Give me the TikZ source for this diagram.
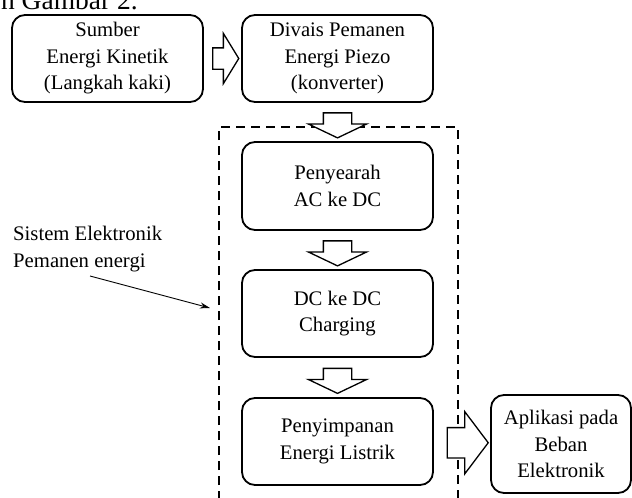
\documentclass[tikz,border=0pt]{standalone}
\usepackage{fontspec}
\setmainfont{Liberation Serif}
\usetikzlibrary{shapes.arrows,calc,arrows.meta}
\begin{document}
\begin{tikzpicture}[x=1pt,y=-1pt,
  font=\fontsize{20.7}{26.5}\selectfont,
  block/.style={draw,line width=1.8pt,rounded corners=13pt,align=center,
    minimum width=191pt,minimum height=87pt,inner sep=0pt},
  fatarrow/.style={single arrow,draw,line width=1.3pt,fill=white,
    inner sep=0pt,minimum width=0pt},
  downarrow/.style={fatarrow,rotate=-90,inner ysep=13.5pt,
    single arrow head extend=15pt,minimum height=25pt,single arrow tip angle=129}]
\useasboundingbox (0,0) rectangle (632,498);

%Cut text
\node [anchor=base east,inner sep=0pt,font=\fontsize{27.5}{30}\selectfont] (cut) at (138,9.5) {n Gambar 2.};

%Boxes
\node [block] (sumber) at (107.5,58.5) {Sumber\\Energi Kinetik\\(Langkah kaki)};
\node [block] (divais) at (337.5,58.5) {Divais Pemanen\\Energi Piezo\\(konverter)};
\node [block,minimum height=88pt] (penyearah) at (337.5,186) {Penyearah\\AC ke DC};
\node [block] (charging) at (337.5,313.5) {DC ke DC\\Charging};
\node [block] (simpan) at (337.5,441.5) {Penyimpanan\\Energi Listrik};
\node [block,minimum width=140pt,minimum height=98pt] (beban) at (561,444) {Aplikasi pada\\Beban\\Elektronik};

%Dashed System Border
\draw [line width=1.8pt,dash pattern=on 9pt off 6pt] (219,515) -- (219,127) -- (458,127) -- (458,515);

%Block Arrows
\node [fatarrow,inner ysep=10pt,single arrow head extend=14.5pt,minimum height=26pt,single arrow tip angle=117] (ar1) at ($(sumber.east)!0.5!(divais.west)$) {};
\node [downarrow] (ar2) at ($(divais.south)!0.5!(penyearah.north)$) {};
\node [downarrow] (ar3) at ($(penyearah.south)!0.5!(charging.north)$) {};
\node [downarrow] (ar4) at ($(charging.south)!0.5!(simpan.north)$) {};
\node [fatarrow,inner ysep=14.5pt,single arrow head extend=16pt,minimum height=41pt,single arrow tip angle=106] (ar5) at ($(simpan.east)!0.5!(beban.west)$) {};

%Label
\node [anchor=north west,align=left,inner sep=0pt] (sistem) at (13,226) {Sistem Elektronik\\Pemanen energi};
\coordinate (from) at (90,276);
\coordinate (to) at (210,308);
\draw [line width=0.9pt,-{Stealth[length=10pt,width=6pt]}] (from) -- (to);
\end{tikzpicture}
\end{document}
